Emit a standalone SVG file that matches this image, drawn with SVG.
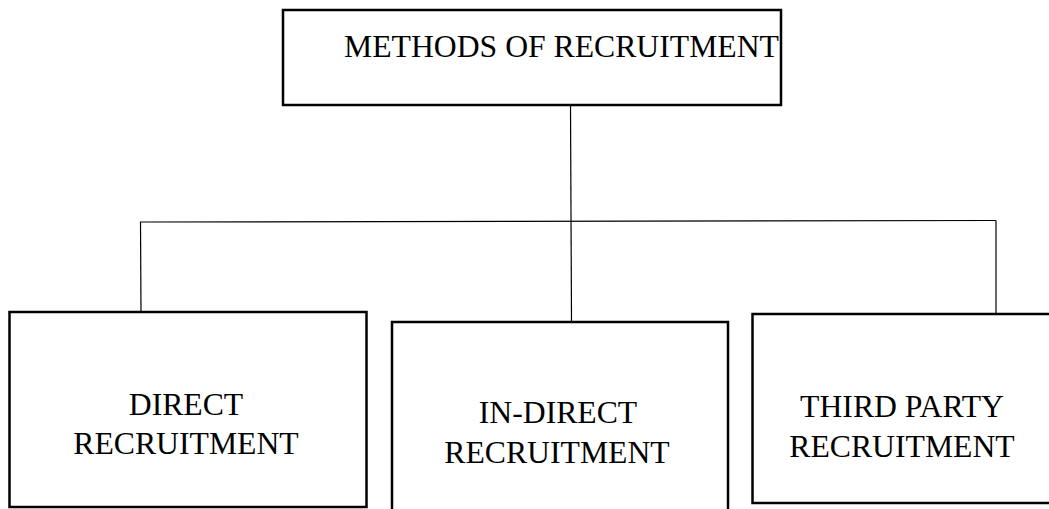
<svg xmlns="http://www.w3.org/2000/svg" width="1049" height="509" viewBox="0 0 1049 509">
  <style>
    .box { fill: #ffffff; stroke: #000000; stroke-width: 2.5; }
    .wire { fill: none; stroke: #000000; stroke-width: 1.2; }
    .label { font-family: "Liberation Serif", "Times New Roman", serif; font-size: 31.7px; fill: #000000; text-anchor: middle; }
  </style>
  <rect x="0" y="0" width="1049" height="509" fill="#ffffff"/>

  <!-- connectors -->
  <g id="connectors">
    <line class="wire" x1="570.5" y1="105" x2="571.5" y2="322"/>
    <line class="wire" x1="140" y1="222" x2="996" y2="220.5"/>
    <line class="wire" x1="140.5" y1="222" x2="141" y2="312"/>
    <line class="wire" x1="996" y1="220.5" x2="996" y2="314"/>
  </g>

  <!-- root -->
  <g id="methods">
    <rect class="box" x="283" y="10" width="498" height="95"/>
    <text class="label" x="561.5" y="57">METHODS OF RECRUITMENT</text>
  </g>

  <!-- children -->
  <g id="direct">
    <rect class="box" x="9.5" y="312" width="357" height="195"/>
    <text class="label" x="186" y="415">DIRECT</text>
    <text class="label" x="186" y="454">RECRUITMENT</text>
  </g>

  <g id="indirect">
    <rect class="box" x="392" y="322" width="336" height="210"/>
    <text class="label" x="558" y="423">IN-DIRECT</text>
    <text class="label" x="557" y="463">RECRUITMENT</text>
  </g>

  <g id="third-party">
    <rect class="box" x="752.5" y="314" width="320" height="189"/>
    <text class="label" x="902" y="417">THIRD PARTY</text>
    <text class="label" x="902" y="457">RECRUITMENT</text>
  </g>
</svg>
